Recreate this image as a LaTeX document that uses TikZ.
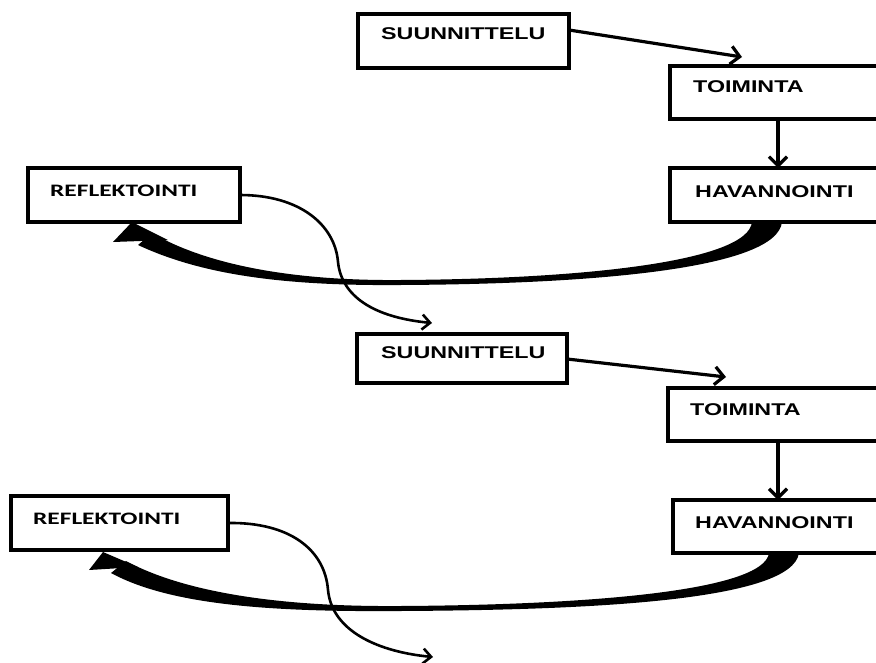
\documentclass[tikz,border=0pt]{standalone}
\usepackage{graphicx}
\usepackage{fontspec}
\setmainfont{Liberation Sans}
\newfontfamily\calfont{Carlito}
\usetikzlibrary{arrows.meta,calc}
\newcommand\sxa[1]{\scalebox{1.37}[1]{#1}}
\newcommand\sxc[1]{\scalebox{1.45}[1]{#1}}
\begin{document}
\begin{tikzpicture}[x=1pt,y=-1pt,
 box/.style={draw,line width=3.6pt,rectangle,anchor=north west,inner sep=0pt,outer sep=0pt},
 arial/.style={anchor=base west,inner sep=0pt,font=\fontsize{17}{17}\selectfont\bfseries},
 calib/.style={anchor=base west,inner sep=0pt,font=\fontsize{17.5}{17.5}\selectfont\calfont\bfseries},
 arr/.style={line width=3.2pt,-{Straight Barb[length=9pt,width=18pt,line width=3.2pt]}},
 thinarr/.style={line width=2.6pt,-{Straight Barb[length=8pt,width=15pt,line width=2.6pt]}},
 big/.style={fill=black,draw=none},
]
\useasboundingbox (0,0) rectangle (876,662);
\fill[white] (0,0) rectangle (876,662);

% ---------- upper cycle ----------
\node[box,minimum width=211pt,minimum height=54pt] (s1) at (358,14) {};
\node[arial] (s1t) at (381,39) {\sxa{SUUNNITTELU}};
\node[box,minimum width=240pt,minimum height=53pt] (t1) at (670,66) {};
\node[arial] (t1t) at (693,92) {\sxa{TOIMINTA}};
\node[box,minimum width=240pt,minimum height=54pt] (h1) at (670,168) {};
\node[arial] (h1t) at (695,197) {\sxa{HAVANNOINTI}};
\node[box,minimum width=212pt,minimum height=54pt] (r1) at (28,168) {};
\node[calib] (r1t) at (50,196) {\sxc{REFLEKTOINTI}};

\coordinate (a1) at ($(t1.north west)+(72,-9)$);
\draw[arr] ($(s1.north east)+(0,16)$) -- (a1);
\draw[arr] ($(t1.south west)+(108,0)$) -- ($(h1.north west)+(108,0)$);

% big curved arrow h1 -> r1
\fill[big] ($(h1.south west)+(82,0)$) .. controls (748,262) and (580,279) .. (400,280)
   .. controls (280,281) and (200,261) .. (152,233) -- (138,245)
   .. controls (200,274) and (280,286) .. (400,285)
   .. controls (600,284) and (777,268) .. ($(h1.south west)+(112,0)$) -- cycle;
\fill[big] ($(r1.south west)+(104,0)$) -- (113,242) -- (168,240) -- cycle;

% thin curved arrow r1 -> s2
\coordinate (c1) at (432,323);
\draw[thinarr] (r1.east) .. controls (300,195) and (335,225) .. (338,262)
   .. controls (342,300) and (380,318) .. (c1);

% ---------- lower cycle ----------
\node[box,minimum width=210pt,minimum height=49pt] (s2) at (357,334) {};
\node[arial] (s2t) at (381,358) {\sxa{SUUNNITTELU}};
\node[box,minimum width=240pt,minimum height=53pt] (t2) at (668,388) {};
\node[arial] (t2t) at (690,415) {\sxa{TOIMINTA}};
\node[box,minimum width=240pt,minimum height=53pt] (h2) at (673,500) {};
\node[arial] (h2t) at (695,528) {\sxa{HAVANNOINTI}};
\node[box,minimum width=217pt,minimum height=54pt] (r2) at (11,496) {};
\node[calib] (r2t) at (33,524) {\sxc{REFLEKTOINTI}};

\coordinate (a2) at (726,377);
\draw[arr] ($(s2.north east)+(0,25)$) -- (a2);
\draw[arr] ($(t2.south west)+(110,0)$) -- ($(h2.north west)+(105,0)$);

\fill[big] ($(h2.south west)+(96,0)$) .. controls (764,592) and (580,605) .. (400,606)
   .. controls (270,607) and (180,590) .. (126,561) -- (111,573)
   .. controls (170,605) and (270,612) .. (400,611)
   .. controls (590,610) and (792,601) .. ($(h2.south west)+(126,0)$) -- cycle;
\fill[big] ($(r2.south west)+(92,2)$) -- (89,570) -- (138,567) -- cycle;

\coordinate (c2) at (433,657);
\draw[thinarr] (r2.east) .. controls (290,522) and (325,550) .. (328,590)
   .. controls (332,632) and (380,652) .. (c2);
\end{tikzpicture}
\end{document}
